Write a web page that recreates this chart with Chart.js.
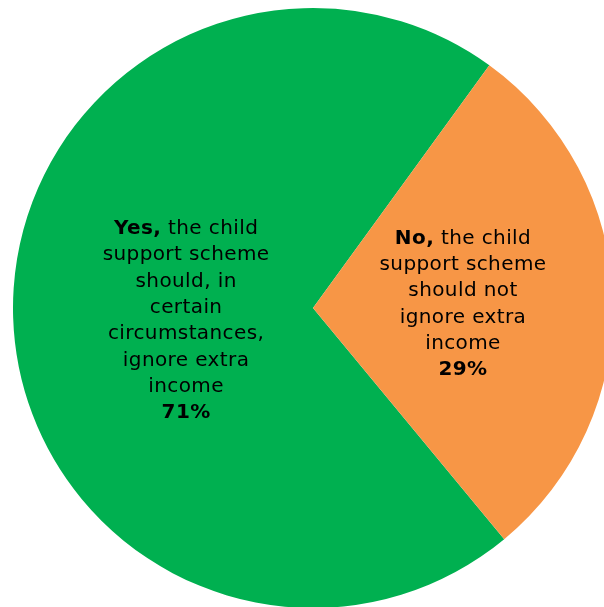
<!DOCTYPE html>
<html>
<head>
<meta charset="utf-8">
<script src="https://cdn.jsdelivr.net/npm/chart.js@4/dist/chart.umd.min.js"></script>
<style>
  html, body { margin: 0; padding: 0; background: #ffffff; overflow: hidden; width: 604px; height: 607px; }
  #wrap { position: absolute; left: 0; top: 0; width: 626px; height: 616px; }
  canvas { display: block; }
</style>
</head>
<body>
<div id="wrap"><canvas id="pie" width="626" height="616"></canvas></div>
<script>
// Survey answers
const categories = ['Yes', 'No'];
const shares = [71, 29];
const sliceColours = ['#00B050', '#F79646'];

// Label text: the bold lead word, then the wrapped rest of the answer
const leadWords = ['Yes,', 'No,'];
const answerLines = [
  [' the child', 'support scheme', 'should, in', 'certain', 'circumstances,', 'ignore extra', 'income'],
  [' the child', 'support scheme', 'should not', 'ignore extra', 'income']
];
// Where each label block sits, as fractions of the radius from the centre
const labelOffsets = [[-0.423, 0.043], [0.5, -0.012]];

const FONT_FAMILY = '"DejaVu Sans", Verdana, sans-serif';
const FONT_SIZE = 20;
const LINE_HEIGHT = 26.3;

const sliceLabels = {
  id: 'sliceLabels',
  afterDatasetsDraw(chart) {
    const ctx = chart.ctx;
    const meta = chart.getDatasetMeta(0);
    ctx.save();
    ctx.fillStyle = '#000000';
    ctx.textBaseline = 'middle';
    ctx.textAlign = 'left';
    if ('letterSpacing' in ctx) ctx.letterSpacing = '0.4px';
    const bold = 'bold ' + FONT_SIZE + 'px ' + FONT_FAMILY;
    const normal = FONT_SIZE + 'px ' + FONT_FAMILY;
    meta.data.forEach((arc, i) => {
      const p = arc.getProps(['x', 'y', 'outerRadius'], true);
      const cx = p.x + labelOffsets[i][0] * p.outerRadius;
      const cy = p.y + labelOffsets[i][1] * p.outerRadius;
      // build runs: first line begins with the bold lead word, last line is the share
      const lines = answerLines[i].map((t, k) => k === 0
        ? [[leadWords[i], bold], [t, normal]]
        : [[t, normal]]);
      lines.push([[shares[i] + '%', bold]]);
      const top = cy - (lines.length - 1) * LINE_HEIGHT / 2;
      lines.forEach((runs, k) => {
        let w = 0;
        runs.forEach(r => { ctx.font = r[1]; w += ctx.measureText(r[0]).width; });
        let x = cx - w / 2;
        const y = top + k * LINE_HEIGHT;
        runs.forEach(r => {
          ctx.font = r[1];
          ctx.fillText(r[0], x, y);
          x += ctx.measureText(r[0]).width;
        });
      });
    });
    ctx.restore();
  }
};

new Chart(document.getElementById('pie'), {
  type: 'pie',
  data: {
    labels: categories,
    datasets: [{
      data: shares,
      backgroundColor: sliceColours,
      borderWidth: 0
    }]
  },
  options: {
    responsive: false,
    animation: false,
    rotation: 140.4,
    layout: { padding: 8 },
    plugins: {
      legend: { display: false },
      tooltip: { enabled: false }
    }
  },
  plugins: [sliceLabels]
});
</script>
</body>
</html>
